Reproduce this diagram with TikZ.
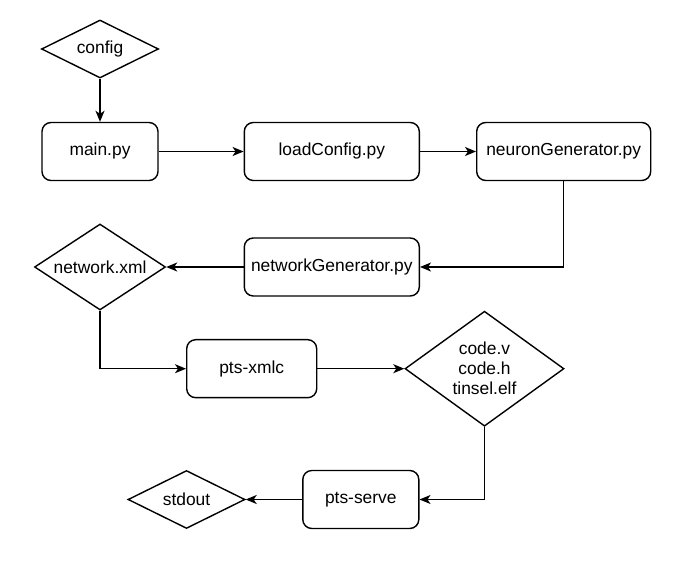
\documentclass[tikz,border=0pt]{standalone}
\usepackage{fontspec}
\setmainfont{Liberation Sans}
\usetikzlibrary{shapes.geometric,arrows.meta}
\begin{document}
\begin{tikzpicture}[x=1pt,y=-1pt,
  every node/.style={font=\fontsize{17.4}{20}\selectfont, line width=1.4pt},
  proc/.style={draw, rounded corners=9pt, minimum width=#1, minimum height=58pt, inner sep=0pt},
  dia/.style={draw, diamond, inner sep=0pt, align=center},
  conn/.style={line width=1.4pt, -{Stealth[length=11pt,width=9pt,inset=3pt]}}
]
\useasboundingbox (0,0) rectangle (697,564);
\node[dia, aspect=2, minimum width=117pt, minimum height=58pt] (config) at (100,49) {config};
\node[proc=116pt] (main) at (100,151.5) {main.py};
\node[proc=175pt] (load) at (331.8,151.5) {loadConfig.py};
\node[proc=174pt] (neuron) at (563.7,151.5) {neuronGenerator.py};
\node[proc=175pt] (netgen) at (331.8,267) {networkGenerator.py};
\node[dia, aspect=1.52, minimum width=131pt, minimum height=86pt] (netxml) at (100,267) {network.xml};
\node[proc=130pt] (xmlc) at (251.7,368.7) {pts-xmlc};
\node[dia, aspect=1.38, minimum width=159pt, minimum height=115pt] (code) at (484.5,368.7) {code.v\\code.h\\tinsel.elf};
\node[proc=116pt] (serve) at (360.8,499.5) {pts-serve};
\node[dia, aspect=2, minimum width=117pt, minimum height=58pt] (stdout) at (186.5,499.5) {stdout};

\draw[conn] (config.south) -- (main.north);
\draw[conn] (main.east) -- (load.west);
\draw[conn] (load.east) -- (neuron.west);
\draw[conn] (neuron.south) |- (netgen.east);
\draw[conn] (netgen.west) -- (netxml.east);
\draw[conn] (netxml.south) |- (xmlc.west);
\draw[conn] (xmlc.east) -- (code.west);
\draw[conn] (code.south) |- (serve.east);
\draw[conn] (serve.west) -- (stdout.east);
\end{tikzpicture}
\end{document}
